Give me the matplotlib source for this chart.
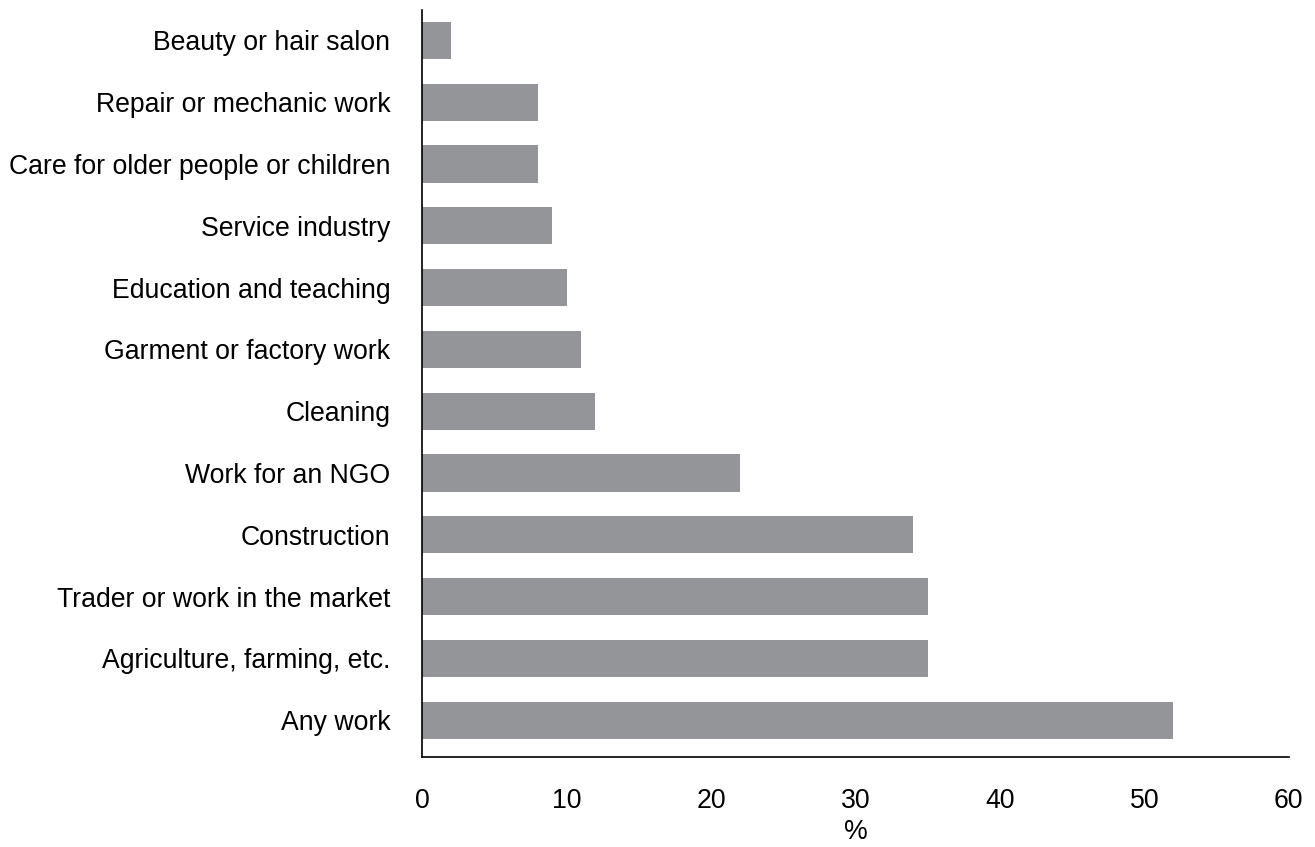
import matplotlib
matplotlib.use("Agg")
import matplotlib.pyplot as plt

plt.rcParams['font.family'] = ['Liberation Sans', 'DejaVu Sans']

categories = ["Any work", "Agriculture, farming, etc.", "Trader or work in the market",
              "Construction", "Work for an NGO", "Cleaning", "Garment or factory work",
              "Education and teaching", "Service industry", "Care for older people or children",
              "Repair or mechanic work", "Beauty or hair salon"]
values = [52, 35, 35, 34, 22, 12, 11, 10, 9, 8, 8, 2]

fig = plt.figure(figsize=(13.15, 8.47), dpi=100)
ax = fig.add_axes([0.321, 0.106, 0.659, 0.882])

ax.barh(range(len(categories)), values, height=0.6, color="#939598")
ax.set_yticks(range(len(categories)))
ax.set_yticklabels(categories, fontsize=19.2)
ax.set_xlim(0, 60)
ax.set_ylim(-0.6, len(categories) - 0.51)
ax.set_xticks(range(0, 61, 10))
ax.tick_params(axis='x', labelsize=19.2, length=0, pad=22)
ax.tick_params(axis='y', length=0, pad=23)
ax.set_xlabel("%", fontsize=19.2, labelpad=4)

for s in ["top", "right"]:
    ax.spines[s].set_visible(False)
ax.spines["left"].set_linewidth(1.2)
ax.spines["bottom"].set_linewidth(1.2)

fig.savefig("out.png", dpi=100)
